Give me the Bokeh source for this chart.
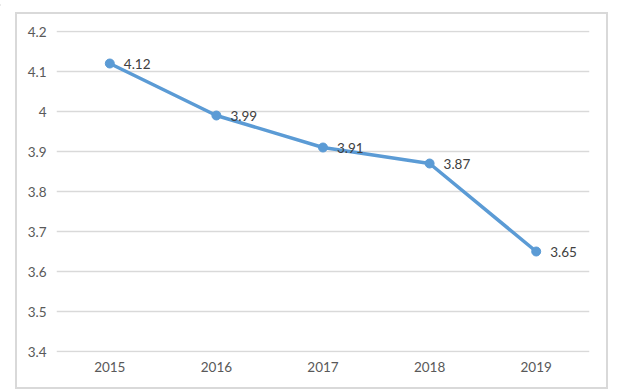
from bokeh.plotting import figure
from bokeh.models import ColumnDataSource, FactorRange, Range1d, FixedTicker, InlineStyleSheet
from bokeh.core.properties import value
from bokeh.embed import file_html
from bokeh.resources import INLINE

years = ["2015", "2016", "2017", "2018", "2019"]
values = [4.12, 3.99, 3.91, 3.87, 3.65]
labels = ["4.12", "3.99", "3.91", "3.87", "3.65"]
y_ticks = [3.4, 3.5, 3.6, 3.7, 3.8, 3.9, 4.0, 4.1, 4.2]

src = ColumnDataSource(dict(x=years, y=values, lab=labels))

p = figure(width=619, height=390, output_backend="svg", toolbar_location=None,
           x_range=FactorRange(factors=years, range_padding=0),
           y_range=Range1d(3.3975, 4.2025),
           min_border_left=56, min_border_right=30, min_border_top=30, min_border_bottom=38)
p.outline_line_color = None
p.background_fill_color = "white"
p.border_fill_color = "white"

p.xgrid.grid_line_color = None
p.ygrid.grid_line_color = "#d9d9d9"
p.ygrid.grid_line_width = 1.3
p.yaxis.ticker = FixedTicker(ticks=y_ticks)
p.yaxis.major_label_overrides = {4.0: "4"}

for ax in (p.xaxis[0], p.yaxis[0]):
    ax.axis_line_color = None
    ax.major_tick_line_color = None
    ax.minor_tick_line_color = None
    ax.major_tick_out = 0
    ax.major_tick_in = 0
    ax.major_label_text_font = "Lato"
    ax.major_label_text_font_size = "13.5px"
    ax.major_label_text_color = "#595959"
p.yaxis.major_label_standoff = 10
p.xaxis.major_label_standoff = 9

p.line("x", "y", source=src, line_color="#5b9bd5", line_width=3.5)
p.scatter("x", "y", source=src, size=9, fill_color="#5b9bd5", line_color="#5b9bd5")
p.text("x", "y", text="lab", source=src, x_offset=14, text_align="left",
       text_baseline="middle", text_font=value("Lato"), text_font_size="13.5px",
       text_color="#404040")

frame_css = InlineStyleSheet(css="""
:host { position: relative; }
:host::after { content: ''; position: absolute; left: 15px; top: 12px; width: 593px; height: 377px;
  border: 2px solid #d9d9d9; box-sizing: border-box; pointer-events: none; }
:host::before { content: ''; position: absolute; left: 0px; top: 4px; width: 619px; height: 2px;
  background: #e3e3e3; pointer-events: none; }
""")
p.stylesheets = [frame_css]

open("out.html", "w").write(file_html(p, INLINE))
